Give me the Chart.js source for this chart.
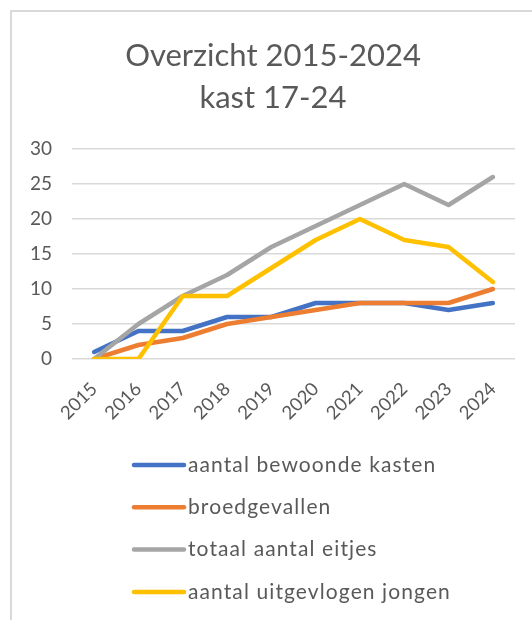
<!DOCTYPE html>
<html>
<head>
<meta charset="utf-8">
<script src="https://cdn.jsdelivr.net/npm/chart.js@4"></script>
<style>
  html, body { margin: 0; padding: 0; background: #ffffff; overflow: hidden; }
  #wrap { position: relative; width: 532px; height: 620px; }
  #frame { position: absolute; left: 10px; top: 10px; width: 600px; height: 700px; border: 2px solid #d9d9d9; box-sizing: border-box; }
  canvas { position: absolute; left: 0; top: 0; }
</style>
</head>
<body>
<div id="wrap">
  <div id="frame"></div>
  <canvas id="c" width="532" height="620"></canvas>
</div>
<script>
const titleLines = ['Overzicht 2015-2024', 'kast 17-24'];
const years = ['2015', '2016', '2017', '2018', '2019', '2020', '2021', '2022', '2023', '2024'];
const seriesNames = ['aantal bewoonde kasten', 'broedgevallen', 'totaal aantal eitjes', 'aantal uitgevlogen jongen'];
const bewoondeKasten = [1, 4, 4, 6, 6, 8, 8, 8, 7, 8];
const broedgevallen = [0, 2, 3, 5, 6, 7, 8, 8, 8, 10];
const totaalEitjes = [0, 5, 9, 12, 16, 19, 22, 25, 22, 26];
const uitgevlogenJongen = [0, 0, 9, 9, 13, 17, 20, 17, 16, 11];
const yTicks = [0, 5, 10, 15, 20, 25, 30];

const colors = ['#4472c4', '#ed7d31', '#a5a5a5', '#ffc000'];
const FONT = 'Lato, "Open Sans", sans-serif';
const TEXT = '#595959';

const seriesData = [bewoondeKasten, broedgevallen, totaalEitjes, uitgevlogenJongen];

const verticalLegend = {
  id: 'verticalLegend',
  afterDraw(chart) {
    const ctx = chart.ctx;
    ctx.save();
    chart.data.datasets.forEach((ds, i) => {
      const y = 465 + i * 42.3;
      ctx.strokeStyle = ds.borderColor;
      ctx.lineWidth = 4.5;
      ctx.lineCap = 'round';
      ctx.beginPath();
      ctx.moveTo(134, y);
      ctx.lineTo(184, y);
      ctx.stroke();
      ctx.fillStyle = TEXT;
      ctx.font = '21px ' + FONT;
      if ('letterSpacing' in ctx) ctx.letterSpacing = '1.1px';
      ctx.textBaseline = 'middle';
      ctx.textAlign = 'left';
      ctx.fillText(ds.label, 188, y);
    });
    ctx.restore();
  }
};

new Chart(document.getElementById('c'), {
  type: 'line',
  data: {
    labels: years,
    datasets: seriesNames.map((name, i) => ({
      label: name,
      data: seriesData[i],
      borderColor: colors[i],
      backgroundColor: colors[i],
      borderWidth: 4.5,
      pointRadius: 0,
      tension: 0,
      borderJoinStyle: 'round',
      borderCapStyle: 'round',
      fill: false,
      order: seriesNames.length - i
    }))
  },
  options: {
    responsive: false,
    animation: false,
    devicePixelRatio: 1,
    layout: { padding: { left: 31, right: 17, top: 0, bottom: 181 } },
    plugins: {
      legend: { display: false },
      tooltip: { enabled: false },
      title: {
        display: true,
        text: titleLines,
        color: TEXT,
        font: { family: FONT, size: 31, weight: 'normal', lineHeight: 1.355 },
        padding: { top: 35, bottom: 30 }
      }
    },
    scales: {
      x: {
        type: 'category',
        offset: true,
        grid: { display: false },
        border: { display: false },
        ticks: {
          color: TEXT,
          font: { family: FONT, size: 18.5 },
          minRotation: 45,
          maxRotation: 45,
          autoSkip: false,
          padding: 11
        },
        afterFit(scale) { scale.height = 80; }
      },
      y: {
        min: 0,
        max: 30,
        afterBuildTicks(scale) { scale.ticks = yTicks.map(v => ({ value: v })); },
        grid: { color: '#d9d9d9', lineWidth: 1.5, drawTicks: false },
        border: { display: false },
        ticks: {
          color: TEXT,
          font: { family: FONT, size: 19 },
          padding: 20
        },
        afterFit(scale) { scale.width = 41; }
      }
    }
  },
  plugins: [verticalLegend]
});
</script>
</body>
</html>
